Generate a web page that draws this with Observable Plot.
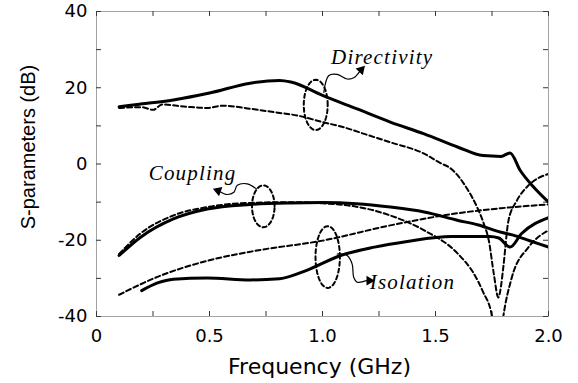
<!DOCTYPE html>
<html><head><meta charset="utf-8">
<script src="https://cdn.jsdelivr.net/npm/d3@7"></script>
<script src="https://cdn.jsdelivr.net/npm/@observablehq/plot@0.6"></script>
<style>body{margin:0;background:#fff}</style>
</head><body><div id="chart"></div>
<script>
// Directivity (solid = measured, dashed = simulated)
const dirMeasF  = [0.10,0.18,0.34,0.50,0.68,0.81,0.86,1.00,1.15,1.30,1.45,1.60,1.71,1.79,1.83,1.875,1.935,2.00];
const dirMeasDb = [15.0,15.6,16.8,18.6,21.2,21.9,21.5,18.0,14.5,11.0,7.9,4.4,2.2,2.0,2.9,-1.7,-6.1,-10.0];
const dirSimF   = [0.10,0.20,0.25,0.29,0.40,0.49,0.56,0.68,0.785,0.89,1.00,1.09,1.20,1.30,1.45,1.52,1.57,1.64,1.684,1.714,1.736,1.758,1.778,1.79,1.80,1.823,1.86,1.91,2.00];
const dirSimDb  = [14.7,14.9,14.2,15.6,15.0,14.7,15.3,14.5,13.6,12.7,11.0,9.7,7.6,5.7,2.7,0.3,-1.3,-6.5,-11.3,-15.7,-20.1,-28.8,-35.0,-32.0,-27.1,-14.8,-9.6,-5.7,-2.6];
// Coupling
const cplMeasF  = [0.10,0.195,0.34,0.49,0.68,0.86,1.00,1.15,1.30,1.45,1.60,1.69,1.79,1.84,1.92,2.00];
const cplMeasDb = [-24.0,-19.2,-14.4,-11.8,-10.6,-10.2,-10.1,-10.4,-11.3,-12.6,-14.8,-16.0,-17.9,-18.6,-20.2,-21.8];
const cplSimF   = [0.10,0.195,0.34,0.49,0.68,0.86,1.00,1.15,1.30,1.45,1.60,1.67,1.71,1.75,1.775,1.80,1.838,1.912,2.00];
const cplSimDb  = [-23.6,-18.2,-13.5,-11.3,-10.2,-10.0,-10.3,-11.2,-13.5,-17.4,-23.6,-28.8,-33.5,-40.0,-52.0,-40.0,-29.7,-21.8,-17.4];
// Isolation
const isoMeasF  = [0.20,0.27,0.34,0.49,0.68,0.81,0.93,1.08,1.23,1.375,1.57,1.74,1.78,1.83,1.88,2.00];
const isoMeasDb = [-33.2,-31.2,-30.2,-29.9,-30.4,-30.1,-27.9,-24.0,-21.8,-20.3,-19.0,-19.0,-19.4,-21.8,-18.3,-14.1];
const isoSimF   = [0.10,0.27,0.49,0.71,1.00,1.30,1.60,1.79,2.00];
const isoSimDb  = [-34.3,-29.6,-25.4,-22.7,-20.1,-16.1,-12.9,-11.6,-10.6];

// Ticks
const xTickLabels = [0, 0.5, 1.0, 1.5, 2.0];
const yTickLabels = [-40, -20, 0, 20, 40];
const xMinorTicks = [0, 0.25, 0.5, 0.75, 1.0, 1.25, 1.5, 1.75, 2.0];
const yMinorTicks = [-40, -30, -20, -10, 0, 10, 20, 30, 40];

// Annotations
const annoText = ["Directivity", "Coupling", "Isolation"];
const annoX = [1.038, 0.231, 1.209];
const annoY = [26.2, -4.3, -32.8];
const ellCx = [0.970, 0.738, 1.023];
const ellCy = [15.5, -11.1, -24.4];
const ellRx = [0.053, 0.050, 0.054];
const ellRy = [6.6, 5.5, 8.1];
const dirLinkF = [1.006,1.028,1.065,1.109,1.138,1.165];
const dirLinkDb = [18.8,23.2,23.5,22.3,22.6,24.3];
const cplLinkF = [0.707,0.667,0.623,0.608,0.578,0.545];
const cplLinkDb = [-6.5,-5.2,-5.6,-7.4,-8.0,-7.2];
const isoLinkF = [1.065,1.109,1.131,1.138,1.153,1.195];
const isoLinkDb = [-23.6,-24.0,-26.2,-29.7,-31.0,-30.6];
const tipF = [1.171, 0.538, 1.207];
const tipDb = [24.7, -7.0, -30.6];
const tipRot = [43, -70, 90];

const tbl = (F, D) => F.map((f, i) => ({f, db: D[i]}));
const solid = {x: "f", y: "db", stroke: "black", strokeWidth: 3, curve: "monotone-x", clip: true};
const dashed = {x: "f", y: "db", stroke: "black", strokeWidth: 2, strokeDasharray: "5,3", curve: "monotone-x", clip: true};
const link = {x: "f", y: "db", stroke: "black", strokeWidth: 1.2, curve: "catmull-rom"};

const ellipsePts = ellCx.flatMap((cx, i) => d3.range(0, 49).map(k => {
  const t = k / 48 * 2 * Math.PI;
  return {f: cx + ellRx[i] * Math.cos(t), db: ellCy[i] + ellRy[i] * Math.sin(t), z: i};
}));

const chart = Plot.plot({
  width: 578, height: 383,
  marginLeft: 96, marginRight: 30, marginTop: 11, marginBottom: 67,
  style: {fontFamily: "DejaVu Sans", fontSize: "18px", background: "white", color: "black"},
  x: {domain: [0, 2], ticks: xTickLabels, tickSize: 0, tickPadding: 13, tickFormat: d => d === 0 ? "0" : d.toFixed(1), label: null},
  y: {domain: [-40, 40], ticks: yTickLabels, tickSize: 0, tickPadding: 9, tickFormat: d => String(d), label: null},
  marks: [
    Plot.ruleX(xMinorTicks, {x: d => d, y1: -40, y2: -38.7, stroke: "#333", strokeWidth: 1}),
    Plot.ruleX(xMinorTicks, {x: d => d, y1: 40, y2: 38.7, stroke: "#333", strokeWidth: 1}),
    Plot.ruleY(yMinorTicks, {y: d => d, x1: 0, x2: 0.022, stroke: "#333", strokeWidth: 1}),
    Plot.ruleY(yMinorTicks, {y: d => d, x1: 2, x2: 1.978, stroke: "#333", strokeWidth: 1}),
    Plot.frame({stroke: "#444", strokeWidth: 1, strokeDasharray: "1,1"}),
    Plot.line(tbl(dirSimF, dirSimDb), dashed),
    Plot.line(tbl(cplSimF, cplSimDb), dashed),
    Plot.line(tbl(isoSimF, isoSimDb), dashed),
    Plot.line(tbl(dirMeasF, dirMeasDb), solid),
    Plot.line(tbl(cplMeasF, cplMeasDb), solid),
    Plot.line(tbl(isoMeasF, isoMeasDb), solid),
    Plot.line(ellipsePts, {x: "f", y: "db", z: "z", stroke: "black", strokeWidth: 2, strokeDasharray: "4,3", curve: "linear"}),
    Plot.line(tbl(dirLinkF, dirLinkDb), link),
    Plot.line(tbl(cplLinkF, cplLinkDb), link),
    Plot.line(tbl(isoLinkF, isoLinkDb), link),
    Plot.dot(tipF.map((f, i) => ({f, db: tipDb[i], r: tipRot[i]})), {x: "f", y: "db", rotate: "r", symbol: "triangle", r: 3.6, fill: "black", stroke: "none"}),
    Plot.text(annoText.map((t, i) => ({t, f: annoX[i], db: annoY[i]})), {x: "f", y: "db", text: "t", textAnchor: "start", lineAnchor: "bottom", fontFamily: "Liberation Serif", fontStyle: "italic", fontSize: 21, fill: "black"}),
    Plot.text(["Frequency (GHz)"], {text: d => d, frameAnchor: "bottom", textAnchor: "middle", lineAnchor: "bottom", dy: 57, dx: -3, fontSize: 22, fontFamily: "DejaVu Sans", fill: "black"}),
    Plot.text(["S-parameters (dB)"], {text: d => d, frameAnchor: "left", textAnchor: "middle", lineAnchor: "middle", rotate: -90, dx: -68, dy: -17, fontSize: 20, fontFamily: "Liberation Sans", fill: "black"})
  ]
});
chart.querySelectorAll('g[font-style="italic"] text').forEach(t => t.style.letterSpacing = "1.2px");
document.getElementById("chart").appendChild(chart);
</script></body></html>
